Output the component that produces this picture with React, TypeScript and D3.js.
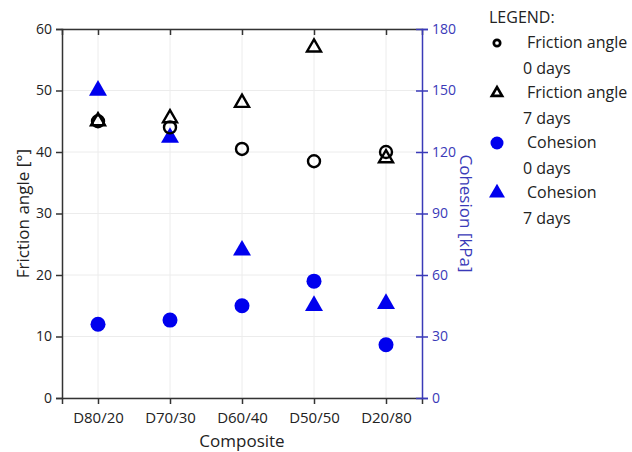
import React, { useEffect, useRef } from "react";
import * as d3 from "d3";

const composites = ["D80/20", "D70/30", "D60/40", "D50/50", "D20/80"];
const friction0 = [45, 44, 40.5, 38.5, 40];
const friction7 = [45, 45.5, 48, 57, 39];
const cohesion0 = [36, 38, 45, 57, 26];
const cohesion7 = [150, 127, 72, 45, 46];
const leftTicks = [0, 10, 20, 30, 40, 50, 60];
const rightTicks = [0, 30, 60, 90, 120, 150, 180];
const legendItems = [
  { label: "Friction angle", sub: "0 days", shape: "circle", filled: false },
  { label: "Friction angle", sub: "7 days", shape: "triangle", filled: false },
  { label: "Cohesion", sub: "0 days", shape: "circle", filled: true },
  { label: "Cohesion", sub: "7 days", shape: "triangle", filled: true },
];

const W = 632;
const H = 452;
const margin = { top: 29, right: 210, bottom: 54, left: 62 };
const FONT = "'Open Sans', 'DejaVu Sans', sans-serif";
const BLUE = "#0000ee";
const AXBLUE = "#3a3ab8";

const App = () => {
  const svgRef = useRef<SVGSVGElement>(null);

  useEffect(() => {
    const svg = d3.select(svgRef.current);
    svg.selectAll("*").remove();

    const innerW = W - margin.left - margin.right;
    const innerH = H - margin.top - margin.bottom;

    const x = d3.scalePoint().domain(composites).range([0, innerW]).padding(0.5);
    const yL = d3.scaleLinear().domain([0, 60]).range([innerH, 0]);
    const yR = d3.scaleLinear().domain([0, 180]).range([innerH, 0]);

    const g = svg.append("g").attr("transform", `translate(${margin.left},${margin.top})`);

    // grid
    g.selectAll(".hgrid")
      .data(leftTicks)
      .enter()
      .append("line")
      .attr("x1", 0)
      .attr("x2", innerW)
      .attr("y1", (d) => yL(d))
      .attr("y2", (d) => yL(d))
      .attr("stroke", "#ececec")
      .attr("stroke-width", 1);
    g.selectAll(".vgrid")
      .data(composites)
      .enter()
      .append("line")
      .attr("x1", (d) => x(d)!)
      .attr("x2", (d) => x(d)!)
      .attr("y1", 0)
      .attr("y2", innerH)
      .attr("stroke", "#ececec")
      .attr("stroke-width", 1);

    // top border with inner ticks
    g.append("g")
      .call(d3.axisTop(x).tickSize(-6).tickFormat(() => ""))
      .call((a) => a.select(".domain").attr("stroke", "#333").attr("stroke-width", 1.5))
      .call((a) => a.selectAll(".tick line").attr("stroke", "#333").attr("stroke-width", 1.5));

    // bottom axis
    g.append("g")
      .attr("transform", `translate(0,${innerH})`)
      .call(d3.axisBottom(x).tickSize(6).tickPadding(8))
      .call((a) => a.select(".domain").attr("stroke", "#333").attr("stroke-width", 1.5))
      .call((a) => a.selectAll(".tick line").attr("stroke", "#333").attr("stroke-width", 1.5))
      .call((a) =>
        a.selectAll(".tick text").attr("font-family", FONT).attr("font-size", 15).attr("fill", "#222")
      );

    // left axis
    g.append("g")
      .call(d3.axisLeft(yL).tickValues(leftTicks).tickSize(6).tickPadding(4))
      .call((a) => a.select(".domain").attr("stroke", "#333").attr("stroke-width", 1.5))
      .call((a) => a.selectAll(".tick line").attr("stroke", "#333").attr("stroke-width", 1.5))
      .call((a) =>
        a.selectAll(".tick text").attr("font-family", FONT).attr("font-size", 14).attr("fill", "#222")
      );

    // right axis (blue), ticks crossing
    const right = g
      .append("g")
      .attr("transform", `translate(${innerW},0)`)
      .call(d3.axisRight(yR).tickValues(rightTicks).tickSize(6).tickPadding(4));
    right.select(".domain").attr("stroke", AXBLUE).attr("stroke-width", 1.5);
    right
      .selectAll(".tick line")
      .attr("x1", -6)
      .attr("x2", 6)
      .attr("stroke", AXBLUE)
      .attr("stroke-width", 1.5);
    right
      .selectAll(".tick text")
      .attr("font-family", FONT)
      .attr("font-size", 14)
      .attr("fill", AXBLUE);

    const tri = (size: number) => d3.symbol().type(d3.symbolTriangle).size(size)();

    // cohesion 7 days
    g.selectAll(".c7")
      .data(cohesion7)
      .enter()
      .append("path")
      .attr("d", tri(140))
      .attr("transform", (d, i) => `translate(${x(composites[i])},${yR(d)})`)
      .attr("fill", BLUE);

    // cohesion 0 days
    g.selectAll(".c0")
      .data(cohesion0)
      .enter()
      .append("circle")
      .attr("cx", (d, i) => x(composites[i])!)
      .attr("cy", (d) => yR(d))
      .attr("r", 7.5)
      .attr("fill", BLUE);

    // friction 0 days
    g.selectAll(".f0")
      .data(friction0)
      .enter()
      .append("circle")
      .attr("cx", (d, i) => x(composites[i])!)
      .attr("cy", (d) => yL(d))
      .attr("r", 6)
      .attr("fill", "none")
      .attr("stroke", "#000")
      .attr("stroke-width", 2.4);

    // friction 7 days
    g.selectAll(".f7")
      .data(friction7)
      .enter()
      .append("path")
      .attr("d", tri(85))
      .attr("transform", (d, i) => `translate(${x(composites[i])},${yL(d)})`)
      .attr("fill", "none")
      .attr("stroke", "#000")
      .attr("stroke-width", 2.4);

    // axis labels
    svg
      .append("text")
      .attr("x", margin.left + innerW / 2)
      .attr("y", H - 5)
      .attr("text-anchor", "middle")
      .attr("font-family", FONT)
      .attr("font-size", 17)
      .attr("fill", "#222")
      .text("Composite");

    svg
      .append("text")
      .attr("transform", `translate(29,${margin.top + innerH / 2}) rotate(-90)`)
      .attr("text-anchor", "middle")
      .attr("font-family", FONT)
      .attr("font-size", 17)
      .attr("fill", "#222")
      .text("Friction angle [°]");

    svg
      .append("text")
      .attr("transform", `translate(460,${margin.top + innerH / 2}) rotate(90)`)
      .attr("text-anchor", "middle")
      .attr("font-family", FONT)
      .attr("font-size", 17)
      .attr("fill", AXBLUE)
      .text("Cohesion [kPa]");

    // legend
    const lg = svg.append("g").attr("transform", "translate(489,0)");
    lg.append("text")
      .attr("x", 0)
      .attr("y", 23)
      .attr("font-family", FONT)
      .attr("font-size", 16)
      .attr("fill", "#222")
      .text("LEGEND:");

    legendItems.forEach((item, i) => {
      const y0 = 43 + i * 50;
      const color = item.filled ? BLUE : "#000";
      if (item.shape === "circle") {
        lg.append("circle")
          .attr("cx", 8)
          .attr("cy", y0)
          .attr("r", item.filled ? 6.5 : 3.2)
          .attr("fill", item.filled ? color : "none")
          .attr("stroke", item.filled ? "none" : color)
          .attr("stroke-width", 2.7);
      } else {
        lg.append("path")
          .attr("d", tri(item.filled ? 110 : 45))
          .attr("transform", `translate(8,${y0})`)
          .attr("fill", item.filled ? color : "none")
          .attr("stroke", item.filled ? "none" : color)
          .attr("stroke-width", 2.7);
      }
      lg.append("text")
        .attr("x", 38)
        .attr("y", y0 + 5)
        .attr("font-family", FONT)
        .attr("font-size", 16)
        .attr("fill", "#222")
        .text(item.label);
      lg.append("text")
        .attr("x", 34)
        .attr("y", y0 + 31)
        .attr("font-family", FONT)
        .attr("font-size", 16)
        .attr("fill", "#222")
        .text(item.sub);
    });
  }, []);

  return (
    <div style={{ position: "absolute", left: 0, top: 0, background: "#fff" }}>
      <svg ref={svgRef} width={W} height={H} style={{ display: "block" }} />
    </div>
  );
};

export default App;
